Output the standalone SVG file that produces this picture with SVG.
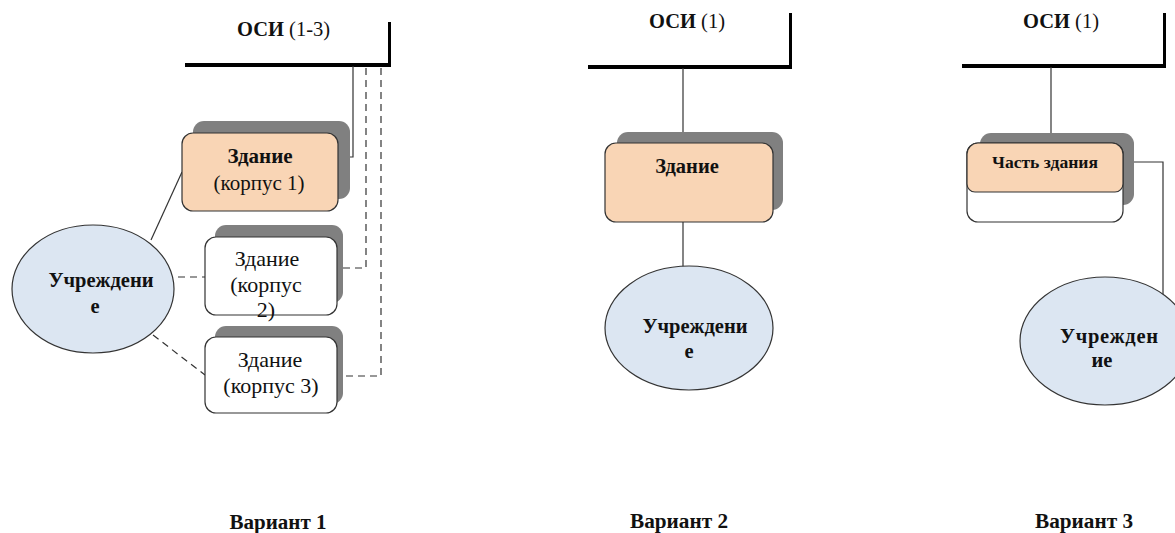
<svg xmlns="http://www.w3.org/2000/svg" width="1175" height="533" viewBox="0 0 1175 533">
<style>
.t{font-family:"Liberation Serif","Times New Roman",serif;fill:#111;}
.b{font-weight:bold;}
.peach{fill:#F9D5B5;stroke:#333;stroke-width:1.2;}
.white{fill:#fff;stroke:#333;stroke-width:1.2;}
.sh{fill:#808080;}
.ell{fill:#DCE6F2;stroke:#333;stroke-width:1.2;}
.axis{stroke:#000;stroke-width:4;fill:none;}
.axv{stroke:#000;stroke-width:3;fill:none;}
.ln{stroke:#333;stroke-width:1.2;fill:none;}
.dl{stroke:#333;stroke-width:1.2;fill:none;stroke-dasharray:7,5;}
</style>
<rect width="1175" height="533" fill="#fff"/>

<!-- Variant 1 -->
<g id="axis1">
<line class="axis" x1="185" y1="65" x2="391" y2="65"/>
<line class="axv" x1="389.5" y1="22" x2="389.5" y2="65"/>
<text class="t" x="237" y="36" font-size="20.5"><tspan class="b">ОСИ</tspan> (1-3)</text>
</g>
<g id="connectors1">
<polyline class="ln" points="338,157 353,157 353,66"/>
<polyline class="dl" points="366,68 366,268 335,268"/>
<polyline class="dl" points="381,68 381,376 337,376"/>
<line class="ln" x1="182" y1="172" x2="151" y2="240"/>
<line class="dl" x1="178" y1="277" x2="205" y2="277"/>
<line class="dl" x1="153" y1="335" x2="205" y2="375"/>
</g>
<g id="building1">
<rect class="sh" x="193" y="121" width="157" height="78" rx="11"/>
<rect class="peach" x="182" y="133" width="156" height="78" rx="11"/>
<text class="t b" x="260" y="163" font-size="21" text-anchor="middle">Здание</text>
<text class="t" x="259" y="190" font-size="21" text-anchor="middle">(корпус 1)</text>
</g>
<g id="building2">
<rect class="sh" x="215" y="225" width="128" height="78" rx="11"/>
<rect class="white" x="205" y="237" width="132" height="78" rx="11"/>
<text class="t" x="267" y="266" font-size="22" text-anchor="middle">Здание</text>
<text class="t" x="266" y="292" font-size="22" text-anchor="middle">(корпус</text>
<text class="t" x="266" y="317" font-size="22" text-anchor="middle">2)</text>
</g>
<g id="building3">
<rect class="sh" x="215" y="326" width="128" height="78" rx="11"/>
<rect class="white" x="205" y="337" width="132" height="76" rx="11"/>
<text class="t" x="270" y="367" font-size="22" text-anchor="middle">Здание</text>
<text class="t" x="271" y="393" font-size="22" text-anchor="middle">(корпус 3)</text>
</g>
<g id="inst1">
<ellipse class="ell" cx="93" cy="289" rx="81" ry="64"/>
<text class="t b" x="101" y="287" font-size="20.5" text-anchor="middle">Учреждени</text>
<text class="t b" x="95" y="313" font-size="20.5" text-anchor="middle">е</text>
</g>
<text id="label1" class="t b" x="278" y="529" font-size="20" text-anchor="middle" textLength="97" lengthAdjust="spacingAndGlyphs">Вариант 1</text>

<!-- Variant 2 -->
<g id="axis2">
<line class="axis" x1="588" y1="67" x2="792" y2="67"/>
<line class="axv" x1="790.5" y1="13" x2="790.5" y2="67"/>
<text class="t" x="649" y="28" font-size="20.5"><tspan class="b">ОСИ</tspan> (1)</text>
</g>
<g id="connectors2">
<line class="ln" x1="683" y1="68" x2="683" y2="143"/>
<line class="ln" x1="683" y1="222" x2="683" y2="267"/>
</g>
<g id="building4">
<rect class="sh" x="617" y="132" width="166" height="78" rx="11"/>
<rect class="peach" x="605" y="143" width="168" height="79" rx="11"/>
<text class="t b" x="687" y="173" font-size="20.5" text-anchor="middle">Здание</text>
</g>
<g id="inst2">
<ellipse class="ell" cx="689" cy="328" rx="84" ry="62"/>
<text class="t b" x="695" y="333" font-size="20.5" text-anchor="middle">Учреждени</text>
<text class="t b" x="689" y="358" font-size="20.5" text-anchor="middle">е</text>
</g>
<text id="label2" class="t b" x="679" y="528" font-size="20" text-anchor="middle" textLength="98" lengthAdjust="spacingAndGlyphs">Вариант 2</text>

<!-- Variant 3 -->
<g id="axis3">
<line class="axis" x1="962" y1="66" x2="1166" y2="66"/>
<line class="axv" x1="1164.5" y1="13" x2="1164.5" y2="66"/>
<text class="t" x="1023" y="28" font-size="20.5"><tspan class="b">ОСИ</tspan> (1)</text>
</g>
<g id="connectors3">
<line class="ln" x1="1051" y1="67" x2="1051" y2="143"/>
<polyline class="ln" points="1123,162 1163,162 1163,295"/>
</g>
<g id="part3">
<rect class="sh" x="980" y="133" width="154" height="72" rx="11"/>
<rect class="white" x="967" y="143" width="156" height="79" rx="11"/>
<path class="peach" d="M967,154 a11,11 0 0 1 11,-11 h134 a11,11 0 0 1 11,11 v30 a8,8 0 0 1 -8,8 h-140 a8,8 0 0 1 -8,-8 z"/>
<text class="t b" x="1045" y="168" font-size="16" text-anchor="middle" textLength="106" lengthAdjust="spacingAndGlyphs">Часть здания</text>
</g>
<g id="inst3">
<ellipse class="ell" cx="1105" cy="341" rx="85" ry="64"/>
<text class="t b" x="1109" y="343" font-size="20.5" text-anchor="middle" textLength="98" lengthAdjust="spacing">Учрежден</text>
<text class="t b" x="1102" y="367" font-size="20.5" text-anchor="middle">ие</text>
</g>
<text id="label3" class="t b" x="1084" y="528" font-size="20" text-anchor="middle" textLength="98" lengthAdjust="spacingAndGlyphs">Вариант 3</text>
</svg>
